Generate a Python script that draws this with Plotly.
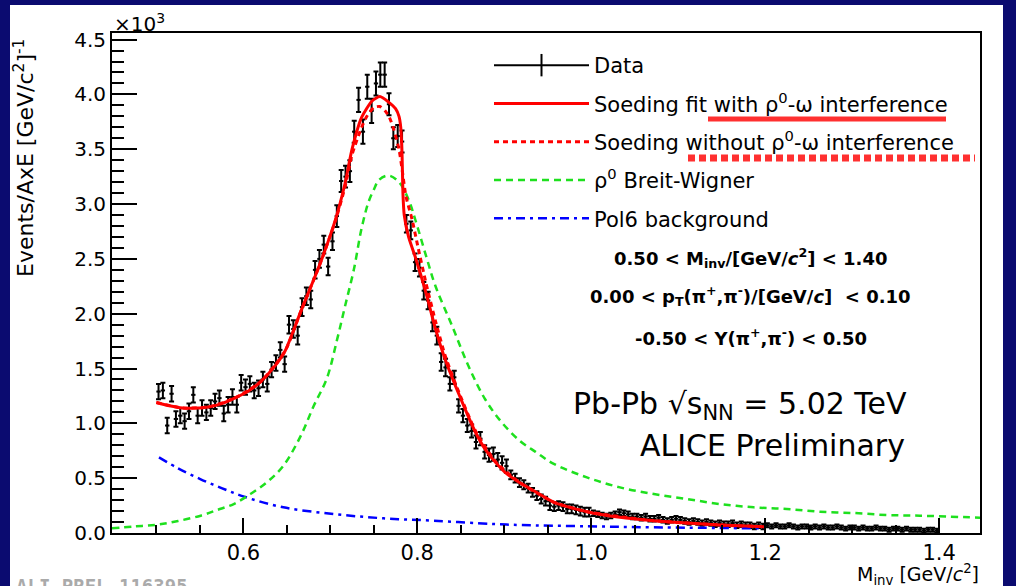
import numpy as np
import plotly.graph_objects as go

# ---------------- data (values in units of 10^3) ----------------
bin_low = 0.50
bin_width = 0.005

counts_k = [
    1.29, 1.30, 0.98, 1.27, 1.04, 1.07, 1.02, 1.11, 1.26, 1.07,
    1.14, 1.10, 1.14, 1.20, 1.23, 1.09, 1.17, 1.24, 1.17, 1.37,
    1.33, 1.36, 1.30, 1.32, 1.40, 1.36, 1.49, 1.55, 1.67, 1.54,
    1.90, 1.86, 1.80, 2.06, 2.16, 2.13, 2.40, 2.50, 2.63, 2.43,
    2.66, 2.89, 3.21, 3.25, 3.30, 3.66, 3.95, 3.66, 4.07, 3.85,
    4.10, 4.18, 4.18, 3.91, 3.60, 3.62, 3.57, 2.82, 2.76, 2.47,
    2.42, 2.21, 2.12, 1.92, 1.80, 1.56, 1.51, 1.36, 1.42, 1.16,
    1.07, 0.98, 0.93, 0.83, 0.86, 0.74, 0.71, 0.72, 0.67, 0.64,
    0.61, 0.53, 0.50, 0.46, 0.44, 0.41, 0.37, 0.34, 0.31, 0.29,
    0.25, 0.24, 0.25, 0.24, 0.22, 0.22, 0.21, 0.20, 0.19, 0.19,
    0.18, 0.17, 0.16, 0.15, 0.16, 0.17, 0.19, 0.18, 0.17, 0.15,
    0.15, 0.14, 0.15, 0.13, 0.13, 0.14, 0.12, 0.11, 0.12, 0.13,
    0.12, 0.11, 0.10, 0.11, 0.10, 0.09, 0.10, 0.09, 0.08, 0.09,
    0.08, 0.08, 0.09, 0.07, 0.08, 0.07, 0.07, 0.06, 0.07, 0.06,
    0.07, 0.06, 0.07, 0.06, 0.06, 0.07, 0.06, 0.05, 0.06, 0.06,
    0.05, 0.06, 0.05, 0.06, 0.05, 0.05, 0.06, 0.05, 0.04, 0.05,
    0.05, 0.04, 0.05, 0.04, 0.04, 0.05, 0.04, 0.04, 0.03, 0.04,
    0.04, 0.03, 0.04, 0.03, 0.03, 0.03, 0.02, 0.03, 0.03, 0.02,
]

errors_k = (
    [0.07] * 30 + [0.08] * 11 + [0.10] * 5 + [0.11] * 7 + [0.10] * 4
    + [0.08] * 10 + [0.06] * 14 + [0.04] * 19 + [0.025] * 40 + [0.018] * 40
)

fit_x = [0.500, 0.515, 0.530, 0.545, 0.560, 0.575, 0.590, 0.605, 0.620, 0.635,
         0.648, 0.667, 0.687, 0.706, 0.717, 0.725, 0.736, 0.748, 0.757, 0.767,
         0.775, 0.779, 0.781, 0.7825, 0.7835, 0.785, 0.790, 0.798, 0.810, 0.821,
         0.832, 0.844, 0.855, 0.867, 0.878, 0.890, 0.901, 0.917, 0.934, 0.957,
         0.995, 1.033, 1.072, 1.110, 1.148, 1.200]
fit_y = [1.19, 1.16, 1.14, 1.14, 1.15, 1.18, 1.23, 1.29, 1.38, 1.51,
         1.66, 2.04, 2.43, 2.86, 3.19, 3.50, 3.79, 3.94, 3.98, 3.93,
         3.87, 3.80, 3.70, 3.45, 3.10, 2.90, 2.70, 2.51, 2.19, 1.86,
         1.585, 1.34, 1.13, 0.917, 0.765, 0.644, 0.553, 0.462, 0.385, 0.28,
         0.194, 0.143, 0.112, 0.091, 0.073, 0.057]

nofit_x = [0.500, 0.530, 0.560, 0.590, 0.620, 0.648, 0.667, 0.687, 0.706, 0.717,
           0.725, 0.736, 0.742, 0.750, 0.757, 0.763, 0.768, 0.773, 0.779, 0.783,
           0.787, 0.794, 0.801, 0.810, 0.821, 0.832, 0.844, 0.867, 0.890, 0.917,
           0.957, 0.995, 1.072, 1.148, 1.200]
nofit_y = [1.19, 1.14, 1.15, 1.23, 1.38, 1.66, 2.04, 2.43, 2.85, 3.16,
           3.45, 3.70, 3.80, 3.88, 3.89, 3.85, 3.79, 3.68, 3.50, 3.29,
           3.07, 2.86, 2.60, 2.28, 1.93, 1.62, 1.36, 0.93, 0.65, 0.465,
           0.282, 0.195, 0.112, 0.073, 0.057]

bw_x = [0.449, 0.475, 0.501, 0.525, 0.551, 0.570, 0.589, 0.608, 0.627, 0.646,
        0.666, 0.681, 0.696, 0.708, 0.717, 0.727, 0.736, 0.744, 0.750, 0.756,
        0.767, 0.779, 0.790, 0.798, 0.810, 0.821, 0.840, 0.859, 0.878, 0.897,
        0.918, 0.936, 0.957, 0.995, 1.033, 1.072, 1.110, 1.148, 1.187, 1.225,
        1.263, 1.302, 1.340, 1.378, 1.447]
bw_y = [0.043, 0.060, 0.076, 0.110, 0.158, 0.210, 0.264, 0.355, 0.462, 0.613,
        0.886, 1.160, 1.410, 1.770, 2.070, 2.400, 2.780, 3.020, 3.130, 3.220,
        3.260, 3.200, 3.040, 2.850, 2.530, 2.250, 1.890, 1.520, 1.220, 1.010,
        0.840, 0.740, 0.630, 0.507, 0.416, 0.355, 0.310, 0.264, 0.234, 0.219,
        0.194, 0.182, 0.164, 0.158, 0.140]

bg_x = [0.503, 0.525, 0.551, 0.575, 0.600, 0.646, 0.704, 0.761, 0.819, 0.888,
        0.918, 0.995, 1.072, 1.200]
bg_y = [0.69, 0.59, 0.49, 0.41, 0.334, 0.234, 0.173, 0.134, 0.112, 0.082,
        0.073, 0.061, 0.052, 0.042]

x_ticks = [0.6, 0.8, 1.0, 1.2, 1.4]
y_ticks = [0.0, 0.5, 1.0, 1.5, 2.0, 2.5, 3.0, 3.5, 4.0, 4.5]

# ---------------- figure ----------------
FONT = "DejaVu Sans"
centers = np.round(bin_low + bin_width * (np.arange(len(counts_k)) + 0.5), 4)

fig = go.Figure()

# legend-only entry for the data
fig.add_trace(go.Scatter(
    x=[None], y=[None], mode="lines+markers", name="Data",
    line=dict(color="black", width=2),
    marker=dict(symbol="line-ns-open", size=16, color="black", line=dict(width=2, color="black")),
    legendgroup="a", legendrank=1,
))

fig.add_trace(go.Scatter(
    x=centers, y=counts_k, mode="markers", showlegend=False,
    marker=dict(size=2, color="black"),
    error_y=dict(type="data", array=errors_k, color="black", thickness=2, width=2.5),
    error_x=dict(type="constant", value=bin_width / 2, color="black", thickness=2, width=0),
))

fig.add_trace(go.Scatter(
    x=bg_x, y=bg_y, mode="lines", name="Pol6 background",
    line=dict(color="#0000ff", width=2.5, dash="9px,5px,3px,5px", shape="spline"),
    legendgroup="e", legendrank=5,
))
fig.add_trace(go.Scatter(
    x=bw_x, y=bw_y, mode="lines", name="ρ<sup>0</sup> Breit-Wigner",
    line=dict(color="#1ee01e", width=2.5, dash="7px,5px", shape="spline"),
    legendgroup="d", legendrank=4,
))
fig.add_trace(go.Scatter(
    x=nofit_x, y=nofit_y, mode="lines", name="Soeding without ρ<sup>0</sup>-ω interference",
    line=dict(color="#ff0000", width=3, dash="5px,4px", shape="spline", smoothing=0.6),
    legendgroup="c", legendrank=3,
))
fig.add_trace(go.Scatter(
    x=fit_x, y=fit_y, mode="lines", name="Soeding fit with ρ<sup>0</sup>-ω interference",
    line=dict(color="#ff0000", width=3, shape="spline", smoothing=0.6),
    legendgroup="b", legendrank=2,
))

W, H = 1016, 586
L, R, T, B = 112, 980, 33, 533


def px(xp):
    return (xp - L) / (R - L)


def py(yp):
    return (B - yp) / (B - T)


shapes = [
    dict(type="rect", xref="paper", yref="paper", x0=px(10), x1=px(1003), y0=py(700), y1=py(5),
         fillcolor="white", line=dict(width=0), layer="below"),
    dict(type="line", xref="paper", yref="paper", x0=px(708), x1=px(946), y0=py(119), y1=py(119),
         line=dict(color="#ff3030", width=5)),
    dict(type="line", xref="paper", yref="paper", x0=px(688), x1=px(975), y0=py(158), y1=py(158),
         line=dict(color="#ff3030", width=7, dash="7px,4px")),
]

annotations = [
    dict(text="×10<sup>3</sup>", x=px(112), y=py(23), xref="paper", yref="paper",
         xanchor="left", yanchor="middle", showarrow=False, font=dict(family=FONT, size=20, color="black")),
    dict(text="Events/AxE [GeV/c<sup>2</sup>]<sup>-1</sup>", x=px(24), y=py(37), xref="paper", yref="paper",
         xanchor="center", yanchor="top", textangle=-90, showarrow=False,
         font=dict(family=FONT, size=22, color="black")),
    dict(text="M<sub>inv</sub> [GeV/<i>c</i><sup>2</sup>]", x=px(981), y=py(574), xref="paper", yref="paper",
         xanchor="right", yanchor="middle", showarrow=False, font=dict(family=FONT, size=19, color="black")),
    dict(text="<b>0.50 &lt; M<sub>inv</sub>/[GeV/<i>c</i><sup>2</sup>] &lt; 1.40</b>", x=px(750), y=py(258),
         xref="paper", yref="paper", xanchor="center", yanchor="middle", showarrow=False,
         font=dict(family=FONT, size=18, color="black")),
    dict(text="<b>0.00 &lt; p<sub>T</sub>(π<sup>+</sup>,π<sup>-</sup>)/[GeV/<i>c</i>]&nbsp; &lt; 0.10</b>",
         x=px(750), y=py(296), xref="paper", yref="paper", xanchor="center", yanchor="middle",
         showarrow=False, font=dict(family=FONT, size=18, color="black")),
    dict(text="<b>-0.50 &lt; Y(π<sup>+</sup>,π<sup>-</sup>) &lt; 0.50</b>", x=px(751), y=py(337),
         xref="paper", yref="paper", xanchor="center", yanchor="middle", showarrow=False,
         font=dict(family=FONT, size=18, color="black")),
    dict(text="Pb-Pb √s<sub>NN</sub> = 5.02 TeV", x=px(740), y=py(405), xref="paper", yref="paper",
         xanchor="center", yanchor="middle", showarrow=False, font=dict(family=FONT, size=30, color="black")),
    dict(text="ALICE Preliminary", x=px(772), y=py(445), xref="paper", yref="paper",
         xanchor="center", yanchor="middle", showarrow=False, font=dict(family=FONT, size=30, color="black")),
    dict(text="<b>ALI−PREL−116395</b>", x=px(14), y=py(573), xref="paper", yref="paper",
         xanchor="left", yanchor="top", showarrow=False,
         font=dict(family="DejaVu Sans Mono", size=19, color="#aaaaaa")),
]

axis_common = dict(
    showline=True, linecolor="black", linewidth=2, mirror=True,
    showgrid=False, zeroline=False, ticks="inside", tickcolor="black", tickwidth=1.5,
)

fig.update_layout(
    width=W, height=H,
    margin=dict(l=L, r=W - R, t=T, b=H - B),
    paper_bgcolor="#0b0b70", plot_bgcolor="white",
    xaxis=dict(range=[0.449, 1.447], tickvals=x_ticks, ticktext=[f"{v:.1f}" for v in x_ticks],
               ticklen=15, tickfont=dict(family=FONT, size=21, color="black"),
               minor=dict(ticks="inside", ticklen=8, tickwidth=1.5, tickcolor="black", dtick=0.05, tick0=0),
               **axis_common),
    yaxis=dict(range=[0, 4.56], tickvals=y_ticks, ticktext=[f"{v:.1f}" for v in y_ticks],
               ticklen=25, tickfont=dict(family=FONT, size=20, color="black"),
               minor=dict(ticks="inside", ticklen=12, tickwidth=1.5, tickcolor="black", dtick=0.1, tick0=0),
               **axis_common),
    legend=dict(x=px(489), y=py(45), xanchor="left", yanchor="top", bgcolor="rgba(0,0,0,0)",
                borderwidth=0, font=dict(family=FONT, size=21, color="black"),
                itemwidth=95, tracegroupgap=8, traceorder="grouped"),
    shapes=shapes,
    annotations=annotations,
)

fig.write_html("out.html")
